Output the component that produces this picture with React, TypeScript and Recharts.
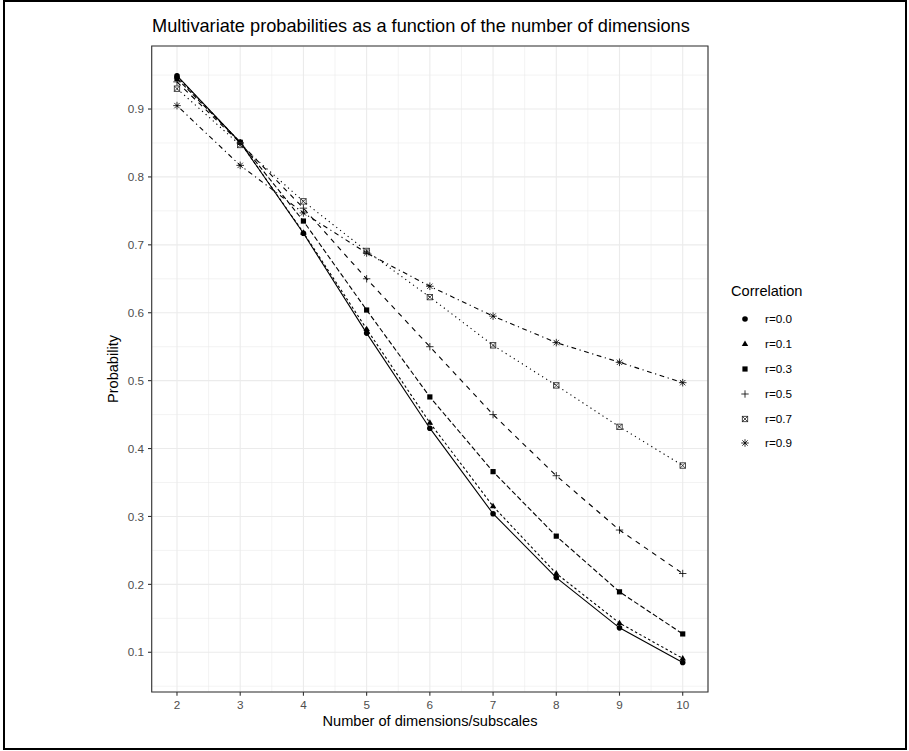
import React from 'react';
import { LineChart, Line, XAxis, YAxis, CartesianGrid, ReferenceArea } from 'recharts';

const dims = [2, 3, 4, 5, 6, 7, 8, 9, 10];
const r00 = [0.949, 0.851, 0.717, 0.570, 0.430, 0.304, 0.210, 0.136, 0.085];
const r01 = [0.948, 0.851, 0.718, 0.576, 0.438, 0.315, 0.216, 0.143, 0.091];
const r03 = [0.945, 0.851, 0.735, 0.604, 0.476, 0.366, 0.271, 0.189, 0.127];
const r05 = [0.940, 0.850, 0.754, 0.650, 0.550, 0.450, 0.360, 0.280, 0.216];
const r07 = [0.930, 0.847, 0.764, 0.691, 0.623, 0.552, 0.493, 0.432, 0.375];
const r09 = [0.905, 0.817, 0.747, 0.688, 0.639, 0.595, 0.556, 0.527, 0.497];

const seriesNames = ['r=0.0', 'r=0.1', 'r=0.3', 'r=0.5', 'r=0.7', 'r=0.9'];
const seriesValues = [r00, r01, r03, r05, r07, r09];
const shapes = ['circle', 'triangle', 'square', 'plus', 'boxx', 'asterisk'];
const dashes = ['', '2.5 2.5', '5 2.5', '5 5', '1.2 3.6', '1.2 3.6 4.8 3.6'];

const xTicks = [2, 3, 4, 5, 6, 7, 8, 9, 10];
const xMinor = [2.5, 3.5, 4.5, 5.5, 6.5, 7.5, 8.5, 9.5];
const yTicks = [0.1, 0.2, 0.3, 0.4, 0.5, 0.6, 0.7, 0.8, 0.9];
const yMinor = [0.05, 0.15, 0.25, 0.35, 0.45, 0.55, 0.65, 0.75, 0.85, 0.95];
const xDomain = [1.6, 10.4];
const yDomain = [0.0415, 0.9928];

const data = dims.map((d, i) => {
  const row: any = { d };
  seriesNames.forEach((n, j) => {
    row[n] = seriesValues[j][i];
  });
  return row;
});

const FONT = '"Liberation Sans", Arial, Helvetica, sans-serif';

function Marker({ kind, cx, cy }: { kind: string; cx: number; cy: number }) {
  if (cx == null || cy == null || isNaN(cx) || isNaN(cy)) return null;
  switch (kind) {
    case 'circle':
      return <circle cx={cx} cy={cy} r={2.8} fill="#000" />;
    case 'triangle': {
      const s = 3.4;
      return (
        <polygon
          points={`${cx},${cy - s} ${cx - s * 0.95},${cy + s * 0.6} ${cx + s * 0.95},${cy + s * 0.6}`}
          fill="#000"
        />
      );
    }
    case 'square':
      return <rect x={cx - 2.6} y={cy - 2.6} width={5.2} height={5.2} fill="#000" />;
    case 'plus':
      return (
        <g stroke="#000" strokeWidth={0.8}>
          <line x1={cx - 3.7} y1={cy} x2={cx + 3.7} y2={cy} />
          <line x1={cx} y1={cy - 3.7} x2={cx} y2={cy + 3.7} />
        </g>
      );
    case 'boxx':
      return (
        <g stroke="#222" strokeWidth={0.8} fill="none">
          <rect x={cx - 2.7} y={cy - 2.7} width={5.4} height={5.4} />
          <line x1={cx - 2.7} y1={cy - 2.7} x2={cx + 2.7} y2={cy + 2.7} />
          <line x1={cx - 2.7} y1={cy + 2.7} x2={cx + 2.7} y2={cy - 2.7} />
        </g>
      );
    case 'asterisk':
      return (
        <g stroke="#000" strokeWidth={0.8}>
          <line x1={cx - 3.8} y1={cy} x2={cx + 3.8} y2={cy} />
          <line x1={cx} y1={cy - 3.8} x2={cx} y2={cy + 3.8} />
          <line x1={cx - 2.7} y1={cy - 2.7} x2={cx + 2.7} y2={cy + 2.7} />
          <line x1={cx - 2.7} y1={cy + 2.7} x2={cx + 2.7} y2={cy - 2.7} />
        </g>
      );
    default:
      return null;
  }
}

export default function App() {
  return (
    <div
      style={{
        position: 'absolute',
        left: 0,
        top: 0,
        width: 909,
        height: 751,
        background: '#fff',
        fontFamily: FONT,
        overflow: 'hidden',
      }}
    >
      <div
        style={{
          position: 'absolute',
          left: 3,
          top: 0,
          width: 904,
          height: 750,
          border: '2px solid #000',
          boxSizing: 'border-box',
        }}
      />
      <div
        style={{
          position: 'absolute',
          left: 0,
          top: 0,
        }}
      >
        <LineChart
          width={909}
          height={751}
          data={data}
          margin={{ top: 46, right: 201, bottom: 29, left: 0 }}
        >
          <XAxis
            xAxisId="minor"
            dataKey="d"
            type="number"
            domain={xDomain}
            ticks={xMinor}
            allowDataOverflow
            hide
          />
          <YAxis yAxisId="minor" type="number" domain={yDomain} ticks={yMinor} allowDataOverflow hide />
          <CartesianGrid xAxisId="minor" yAxisId="minor" stroke="#EBEBEB" strokeWidth={0.6} />
          <CartesianGrid stroke="#EBEBEB" strokeWidth={1.1} />
          <XAxis
            dataKey="d"
            type="number"
            domain={xDomain}
            ticks={xTicks}
            allowDataOverflow
            height={30}
            axisLine={false}
            tickLine={{ stroke: '#333333', strokeWidth: 1.1 }}
            tickSize={3.7}
            tickMargin={5}
            tick={{ fill: '#4D4D4D', fontSize: 11.7, fontFamily: FONT }}
          />
          <YAxis
            type="number"
            domain={yDomain}
            ticks={yTicks}
            allowDataOverflow
            width={151.7}
            axisLine={false}
            tickLine={{ stroke: '#333333', strokeWidth: 1.1 }}
            tickSize={3.7}
            tickMargin={4}
            tickFormatter={(v: number) => v.toFixed(1)}
            tick={{ fill: '#4D4D4D', fontSize: 11.7, fontFamily: FONT }}
          />
          {seriesNames.map((name, j) => (
            <Line
              key={name}
              dataKey={name}
              type="linear"
              stroke="#000"
              strokeWidth={1.1}
              strokeDasharray={dashes[j] || undefined}
              isAnimationActive={false}
              activeDot={false}
              dot={(p: any) => <Marker key={`${name}-${p.index}`} kind={shapes[j]} cx={p.cx} cy={p.cy} />}
            />
          ))}
          <ReferenceArea
            x1={xDomain[0]}
            x2={xDomain[1]}
            y1={yDomain[0]}
            y2={yDomain[1]}
            fill="none"
            fillOpacity={0}
            stroke="#333333"
            strokeWidth={1.1}
            ifOverflow="visible"
          />
        </LineChart>
      </div>
      <div
        style={{
          position: 'absolute',
          left: 152,
          top: 15,
          fontSize: 18.2,
          color: '#000',
          whiteSpace: 'nowrap',
          lineHeight: '22px',
        }}
      >
        Multivariate probabilities as a function of the number of dimensions
      </div>
      <div
        style={{
          position: 'absolute',
          left: 152,
          width: 556,
          top: 712,
          textAlign: 'center',
          fontSize: 14.6,
          lineHeight: '18px',
          color: '#000',
        }}
      >
        Number of dimensions/subscales
      </div>
      <div
        style={{
          position: 'absolute',
          left: 113 - 150,
          top: 369 - 9,
          width: 300,
          height: 18,
          lineHeight: '18px',
          textAlign: 'center',
          transform: 'rotate(-90deg)',
          fontSize: 14.6,
          color: '#000',
        }}
      >
        Probability
      </div>
      <div style={{ position: 'absolute', left: 731, top: 282, fontSize: 14.6, lineHeight: '18px' }}>
        Correlation
      </div>
      {seriesNames.map((name, j) => (
        <div
          key={name}
          style={{ position: 'absolute', left: 734, top: 319.3 + j * 24.8 - 11, height: 22, display: 'flex', alignItems: 'center' }}
        >
          <svg width={22} height={22} style={{ display: 'block' }}>
            <Marker kind={shapes[j]} cx={11} cy={11} />
          </svg>
          <span style={{ marginLeft: 9, fontSize: 11.7, color: '#000', lineHeight: '14px' }}>{name}</span>
        </div>
      ))}
    </div>
  );
}
